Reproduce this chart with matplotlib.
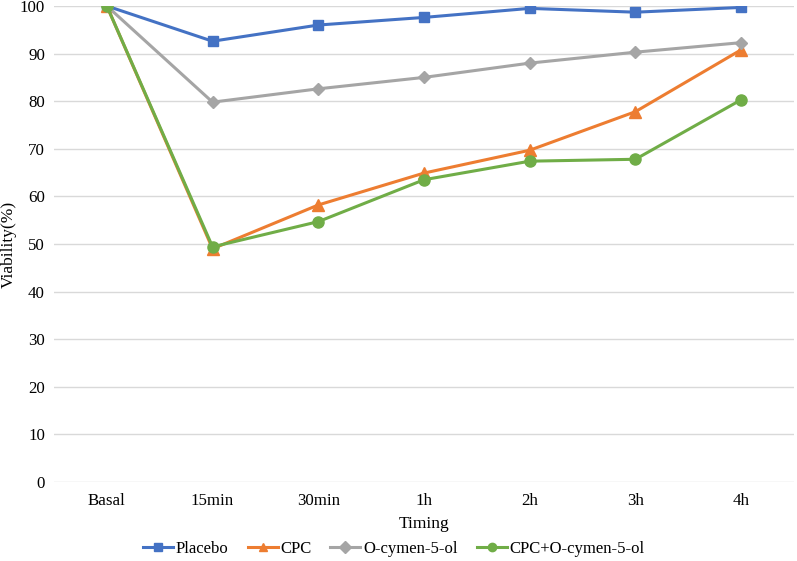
import matplotlib
matplotlib.use("Agg")
import matplotlib.pyplot as plt

categories = ["Basal", "15min", "30min", "1h", "2h", "3h", "4h"]
placebo = [100, 92.6, 96.0, 97.6, 99.5, 98.7, 99.7]
cpc = [100, 49.0, 58.2, 64.9, 69.7, 77.8, 90.8]
ocymen = [100, 79.8, 82.6, 85.0, 88.0, 90.3, 92.3]
combo = [100, 49.4, 54.7, 63.5, 67.4, 67.8, 80.3]

plt.rcParams['font.family'] = ['Liberation Serif', 'DejaVu Serif']

fig = plt.figure(figsize=(7.97, 5.61), dpi=100)
ax = fig.add_axes([54/797, 1-482/561, (794-54)/797, (482-6)/561])

x = list(range(len(categories)))
ax.plot(x, placebo, color='#4472C4', lw=2.2, marker='s', ms=7, label='Placebo')
ax.plot(x, cpc, color='#ED7D31', lw=2.2, marker='^', ms=8, label='CPC')
ax.plot(x, ocymen, color='#A5A5A5', lw=2.2, marker='D', ms=6, label='O-cymen-5-ol')
ax.plot(x, combo, color='#70AD47', lw=2.2, marker='o', ms=8, label='CPC+O-cymen-5-ol')

ax.set_xlim(-0.5, len(categories)-0.5)
ax.set_ylim(0, 100)
ax.set_yticks(range(0, 101, 10))
ax.set_xticks(x)
ax.set_xticklabels(categories)
ax.grid(axis='y', color='#d9d9d9', lw=1)
ax.set_axisbelow(True)
for s in ax.spines.values():
    s.set_visible(False)
ax.tick_params(length=0, labelsize=12.2, colors='black')
ax.tick_params(axis='x', pad=8)
ax.tick_params(axis='y', pad=6.5)
ax.set_xlabel('Timing', fontsize=12.5, labelpad=5)
ax.set_ylabel('Viability(%)', fontsize=12.5)
ax.yaxis.set_label_coords((17-54)/740, 0.5)

leg = fig.legend(*ax.get_legend_handles_labels(), loc='center', bbox_to_anchor=(0.494, 1-549/561),
                 ncol=4, frameon=False, fontsize=12, handlelength=1.8,
                 columnspacing=1.15, handletextpad=0.15, borderaxespad=0, borderpad=0)
for h in leg.legend_handles:
    h.set_markersize(6)

fig.savefig('out.png', dpi=100)
